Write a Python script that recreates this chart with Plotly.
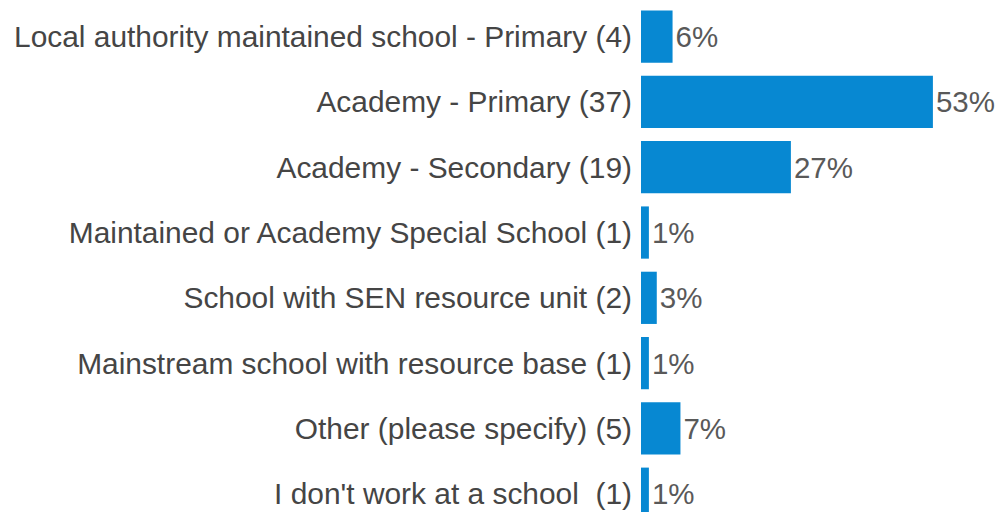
import plotly.graph_objects as go

categories = [
    "Local authority maintained school - Primary (4)",
    "Academy - Primary (37)",
    "Academy - Secondary (19)",
    "Maintained or Academy Special School (1)",
    "School with SEN resource unit (2)",
    "Mainstream school with resource base (1)",
    "Other (please specify) (5)",
    "I don't work at a school  (1)",
]
counts = [4, 37, 19, 1, 2, 1, 5, 1]
total = sum(counts)
percents = [c / total * 100 for c in counts]
labels = [f"{round(p):.0f}%" for p in percents]

FONT = "Liberation Sans, Arial, sans-serif"

fig = go.Figure(go.Bar(
    x=percents,
    y=categories,
    orientation="h",
    marker=dict(color="#0788D2", line=dict(width=0)),
    width=0.8,
    text=labels,
    textposition="outside",
    cliponaxis=False,
    textfont=dict(family=FONT, size=29.5, color="#595959"),
))

fig.update_layout(
    width=995,
    height=512,
    margin=dict(l=641, r=0, t=4, b=0, autoexpand=False),
    plot_bgcolor="white",
    paper_bgcolor="white",
    showlegend=False,
    font=dict(family=FONT, size=29.9, color="#454545"),
    xaxis=dict(range=[0, 64.1], visible=False, showgrid=False, zeroline=False),
    yaxis=dict(
        range=[7.28, -0.5],
        automargin=False,
        showgrid=False,
        zeroline=False,
        showline=False,
        ticks="outside",
        ticklen=2,
        tickcolor="rgba(0,0,0,0)",
        tickfont=dict(family=FONT, size=29.9, color="#454545"),
    ),
)

fig.write_html(
    "out.html",
    config={"displayModeBar": False},
    post_script="document.body.style.margin='0';document.body.style.overflow='hidden';",
)
